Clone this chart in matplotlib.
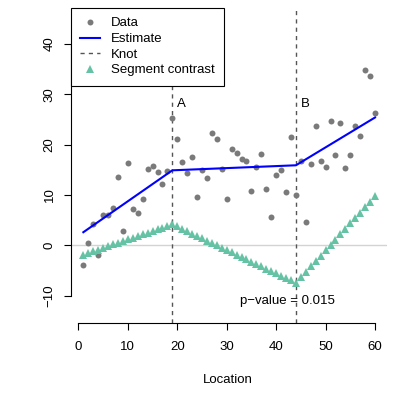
#!/usr/bin/env python3
import matplotlib
matplotlib.use('Agg')
import matplotlib.pyplot as plt

plt.rcParams['font.family'] = ['Liberation Sans', 'DejaVu Sans']

# observed data, one value per location
location = list(range(1, 61))
value = [-3.9, 0.5, 4.3, -1.9, 6.0, 6.1, 7.4, 13.5, 2.9, 16.3,
         7.3, 6.4, 9.3, 15.1, 15.7, 14.5, 12.2, 14.7, 25.2, 21.1,
         16.6, 14.3, 17.5, 9.6, 15.0, 13.3, 22.3, 21.1, 15.1, 9.2,
         19.1, 18.3, 17.1, 16.7, 10.8, 15.5, 18.1, 11.2, 5.6, 13.9,
         14.9, 10.5, 21.5, 10.0, 16.8, 4.6, 16.2, 23.7, 16.8, 15.5,
         24.7, 17.9, 24.4, 15.3, 17.9, 23.8, 21.8, 34.9, 33.7, 26.2]

# fitted piecewise linear estimate
est_x = [1, 19, 44, 60]
est_y = [2.6, 14.9, 15.9, 25.4]

# knots
knots = [19, 44]
knot_labels = ['A', 'B']

# segment contrast at each location
contrast = [-1.85, -1.51, -1.18, -0.84, -0.51, -0.17, 0.17, 0.50, 0.84, 1.17,
            1.51, 1.85, 2.18, 2.52, 2.85, 3.19, 3.53, 3.86, 4.20, 3.74,
            3.27, 2.81, 2.34, 1.88, 1.42, 0.95, 0.49, 0.02, -0.44, -0.90,
            -1.37, -1.83, -2.30, -2.76, -3.22, -3.69, -4.15, -4.62, -5.08, -5.54,
            -6.01, -6.47, -6.94, -7.40, -6.33, -5.26, -4.19, -3.12, -2.06, -0.99,
            0.08, 1.15, 2.22, 3.29, 4.36, 5.43, 6.50, 7.57, 8.63, 9.70]

pvalue_text = 'p\u2212value = 0.015'

fig = plt.figure(figsize=(3.95, 3.95), dpi=100)
ax = fig.add_axes([0.1797, 0.1815, 0.7993, 0.7982])

ax.axhline(0, color='#d3d3d3', lw=1, zorder=1)
ax.plot(location, value, 'o', color='#7a7a7a', ms=4.3, mew=0, label='Data', zorder=3)
ax.plot(est_x, est_y, '-', color='blue', lw=1.5, label='Estimate', zorder=4)
for i, k in enumerate(knots):
    ax.axvline(k, color='#555555', lw=1, ls=(0, (3, 3)),
               label='Knot' if i == 0 else None, zorder=2)
    ax.text(k + 1.0, 28, knot_labels[i], fontsize=9.5, ha='left', va='center')
ax.plot(location, contrast, '^', color='#66c2a5', ms=5.2, mew=0,
        label='Segment contrast', zorder=3)
ax.text(42.2, -11.1, pvalue_text, fontsize=9.5, ha='center', va='center')

ax.set_xlim(-1.5, 62.36)
ax.set_ylim(-15.5, 47.15)
ax.set_xticks([0, 10, 20, 30, 40, 50, 60])
ax.set_yticks([-10, 0, 10, 20, 30, 40])
for s in ['top', 'right']:
    ax.spines[s].set_visible(False)
ax.spines['left'].set_bounds(-10, 40)
ax.spines['bottom'].set_bounds(0, 60)
ax.tick_params(length=5, width=0.8, labelsize=9.5)
ax.tick_params(axis='x', pad=8)
ax.tick_params(axis='y', pad=6)
for lab in ax.get_yticklabels():
    lab.set_rotation(90)
    lab.set_va('center')

fig.text(0.578, 1 - 380 / 395, 'Location', fontsize=9.5, ha='center', va='center')

leg = ax.legend(loc='upper left', bbox_to_anchor=(0, 1), borderaxespad=0,
                fancybox=False, framealpha=1, edgecolor='black', fontsize=9.5,
                handlelength=1.5, handletextpad=0.85, borderpad=0.7,
                labelspacing=0.26)
leg.get_frame().set_linewidth(0.8)

fig.savefig('out.png', dpi=100)
